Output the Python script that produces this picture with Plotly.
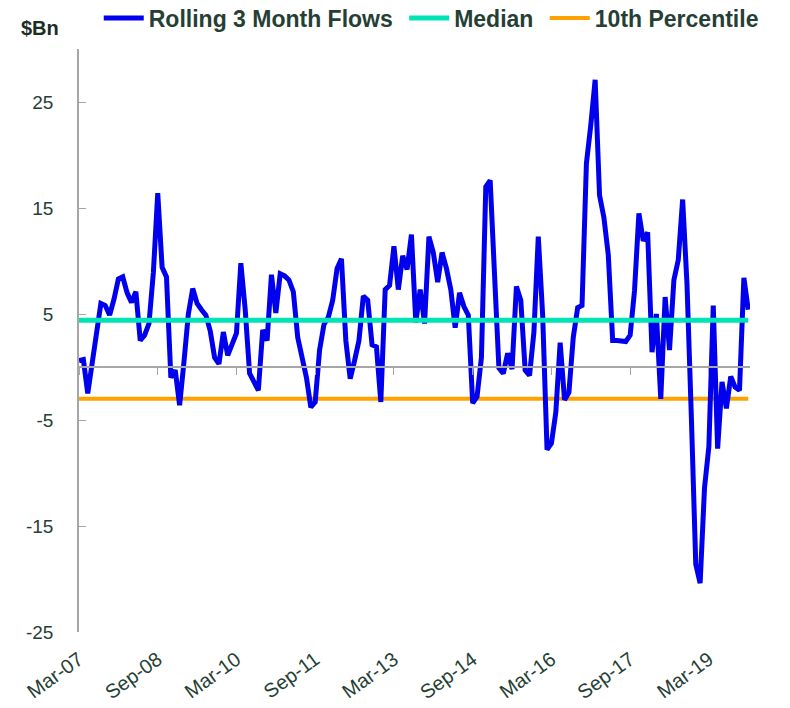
import plotly.graph_objects as go
import pandas as pd

# ---- data ----
start_month = "2007-03-01"
flows = [
    0.6, 0.7, -2.5, 0.3, 3.2, 6.0, 5.8, 4.9, 6.4, 8.3,
    8.5, 7.0, 6.1, 7.1, 2.5, 3.0, 4.1, 8.9, 16.4, 9.4,
    8.5, -1.0, -0.3, -3.6, 0.5, 5.0, 7.4, 6.0, 5.4, 4.9,
    3.4, 0.9, 0.3, 3.3, 1.1, 2.1, 3.2, 9.8, 5.4, -0.6,
    -1.4, -2.2, 3.5, 2.5, 8.7, 5.1, 8.8, 8.6, 8.2, 7.1,
    2.8, 0.9, -1.0, -3.8, -3.3, 1.6, 4.0, 4.7, 6.3, 9.3,
    10.2, 2.5, -1.1, 0.6, 2.5, 6.7, 6.3, 2.1, 1.9, -3.3,
    7.3, 7.7, 11.4, 7.3, 10.5, 9.2, 12.5, 4.2, 7.3, 4.1,
    12.3, 10.8, 8.0, 10.8, 9.3, 7.3, 3.7, 7.0, 5.7, 4.9,
    -3.4, -2.8, 0.9, 17.0, 17.6, 8.7, -0.1, -0.6, 1.3, -0.2,
    7.6, 6.3, -0.3, -0.8, 3.3, 12.3, 4.9, -7.8, -7.2, -4.3,
    2.3, -3.1, -2.4, 2.8, 5.6, 5.8, 19.2, 22.8, 27.1, 16.2,
    14.1, 10.6, 2.5, 2.5, 2.5, 2.4, 3.0, 7.2, 14.5, 11.9,
    12.7, 1.4, 5.0, -3.0, 6.6, 1.6, 8.2, 10.1, 15.8, 7.8,
    -4.8, -18.6, -20.4, -11.4, -7.5, 5.8, -7.7, -1.4, -3.9, -0.9,
    -1.9, -2.2, 8.4, 5.4,
]
median_value = 4.4
p10_value = -3.0
tick_labels = ["Mar-07", "Sep-08", "Mar-10", "Sep-11", "Mar-13",
               "Sep-14", "Mar-16", "Sep-17", "Mar-19"]
y_ticks = [-25, -15, -5, 5, 15, 25]
y_tick_text = ["-25", "-15", "-5", "5", "15", "25"]

months = list(pd.date_range(start_month, periods=len(flows), freq="MS").strftime("%b-%y"))
median_series = [median_value] * len(months)
p10_series = [p10_value] * len(months)

# ---- style ----
TXT = "#253f35"
GRID = "#a6a6a6"
FONT = "Liberation Sans"
y_min, y_max = -25, 30
GAP = "\u00a0"

fig = go.Figure()
fig.add_trace(go.Scatter(x=months, y=flows, mode="lines", name="Rolling 3 Month Flows" + GAP,
                         line=dict(color="#0000EE", width=5), xaxis="x2"))
fig.add_trace(go.Scatter(x=months, y=median_series, mode="lines", name="Median" + GAP,
                         line=dict(color="#00E3B4", width=5), xaxis="x2"))
fig.add_trace(go.Scatter(x=months, y=p10_series, mode="lines", name="10th Percentile",
                         line=dict(color="#FFA200", width=4), xaxis="x"))

zero_pos = (0 - y_min) / (y_max - y_min)
xr = [0, len(months) - 1 + 0.4]

fig.update_layout(
    width=790, height=708,
    margin=dict(l=79, r=40, t=49, b=76, autoexpand=False),
    plot_bgcolor="white", paper_bgcolor="white",
    font=dict(family=FONT, color=TXT, size=16),
    showlegend=True,
    legend=dict(orientation="h", xref="container", yref="container",
                x=0.125, xanchor="left", y=1 - 18 / 708, yanchor="middle",
                font=dict(family=FONT, size=23, color=TXT, weight="bold"),
                itemwidth=40, tracegroupgap=0, bgcolor="rgba(0,0,0,0)"),
    xaxis=dict(type="category", range=xr, anchor="free", position=zero_pos,
               showline=True, linecolor=GRID, linewidth=1.5, automargin=False,
               ticks="outside", ticklen=7, tickcolor=GRID, tickwidth=1,
               tickvals=tick_labels, showticklabels=False, showgrid=False,
               zeroline=False, fixedrange=True),
    xaxis2=dict(type="category", overlaying="x", matches="x", anchor="y", side="bottom",
                range=xr, showline=False, ticks="", tickvals=tick_labels, automargin=False,
                ticktext=tick_labels, tickangle=-36, ticklabelstandoff=11,
                tickfont=dict(family=FONT, size=20, color=TXT),
                showgrid=False, zeroline=False),
    yaxis=dict(range=[y_min, y_max], tickvals=y_ticks, ticktext=y_tick_text,
               showgrid=False, zeroline=False, automargin=False,
               showline=True, linecolor=GRID, linewidth=1.5,
               ticks="inside", ticklen=7, tickcolor=GRID, ticklabelstandoff=20,
               tickfont=dict(family=FONT, size=19, color=TXT)),
    annotations=[dict(text="<b>$Bn</b>", xref="paper", yref="paper",
                      x=-0.09, y=1 + 21 / 583, xanchor="left", yanchor="middle",
                      showarrow=False, font=dict(family=FONT, size=20, color="#1b2e26"))],
)

fig.write_html("out.html", config={"displayModeBar": False},
               post_script="document.body.style.margin='0';document.body.style.padding='0';")
